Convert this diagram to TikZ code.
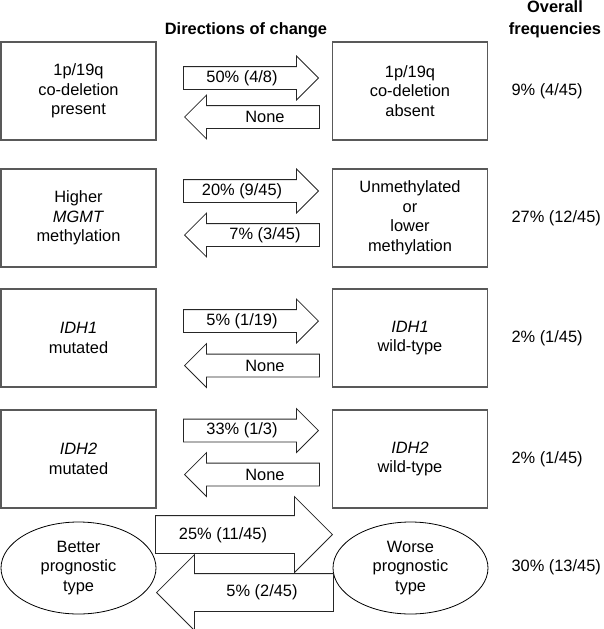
\documentclass[tikz,border=0pt]{standalone}
\usepackage{fontspec}
\setmainfont{Liberation Sans}
\usetikzlibrary{shapes.geometric,shapes.arrows}
\begin{document}
\begin{tikzpicture}[x=1pt,y=-1pt,
    font=\fontsize{16.4}{19.5}\selectfont,
    box/.style={draw=black!65,line width=1.5pt,minimum width=155pt,minimum height=98pt,inner sep=0pt,align=center},
    oval/.style={ellipse,draw,line width=0.8pt,minimum width=155pt,minimum height=92pt,inner sep=0pt,align=center},
    fwd/.style={single arrow,draw=black!85,line width=0.8pt,single arrow tip angle=90,
        single arrow head extend=10.5pt,single arrow head indent=0pt,minimum width=0pt,
        minimum height=135pt,inner sep=0pt,text height=11pt,text depth=11pt,anchor=tip},
    back/.style={fwd,shape border rotate=180},
    wide/.style={single arrow head extend=19pt,text height=18.5pt,text depth=18.5pt,minimum height=177pt}]
    \useasboundingbox (0,0) rectangle (603,629);
    % headings
    \node[font=\fontsize{16.4}{22}\selectfont\bfseries] (dirs) at (246,30) {Directions of change};
    \node[font=\fontsize{16.4}{22}\selectfont\bfseries,align=center] (freq) at (555,19) {Overall\\frequencies};
    % states
    \node[box] (A) at (78.5,91) {1p/19q\\co-deletion\\present};
    \node[box] (B) at (410,91) {1p/19q\\co-deletion\\absent};
    \node[box] (C) at (78.5,218) {Higher\\\textit{MGMT}\\methylation};
    \node[box] (D) at (410,218) {Unmethylated\\or\\lower\\methylation};
    \node[box] (E) at (78.5,338) {\textit{IDH1}\\mutated};
    \node[box] (F) at (410,338) {\textit{IDH1}\\wild-type};
    \node[box] (G) at (78.5,459) {\textit{IDH2}\\mutated};
    \node[box] (H) at (410,459) {\textit{IDH2}\\wild-type};
    \node[oval] (I) at (78.5,568) {Better\\prognostic\\type};
    \node[oval] (J) at (410.5,568) {Worse\\prognostic\\type};
    % directions of change
    \node[fwd] (AB) at (319,78) {};
    \node[back] (BA) at (184,117) {};
    \node[fwd] (CD) at (319,191) {};
    \node[back] (DC) at (184,235) {};
    \node[fwd] (EF) at (319,321) {};
    \node[back] (FE) at (184,365.5) {};
    \node[fwd] (GH) at (319,430.5) {};
    \node[back] (HG) at (184,474.5) {};
    \node[fwd,wide] (IJ) at (333,534.5) {};
    \node[back,wide] (JI) at (156,592.5) {};
    \node (tAB) at (242,78) {50\% (4/8)};
    \node (tBA) at (265,117) {None};
    \node (tCD) at (242,191) {20\% (9/45)};
    \node (tDC) at (265,235) {7\% (3/45)};
    \node (tEF) at (242,321) {5\% (1/19)};
    \node (tFE) at (265,365.5) {None};
    \node (tGH) at (242,430.5) {33\% (1/3)};
    \node (tHG) at (265,474.5) {None};
    \node (tIJ) at (223,535) {25\% (11/45)};
    \node (tJI) at (262,592) {5\% (2/45)};
    % overall frequencies
    \node[anchor=west] (fB) at (508,91) {9\% (4/45)};
    \node[anchor=west] (fD) at (508,218) {27\% (12/45)};
    \node[anchor=west] (fF) at (508,338) {2\% (1/45)};
    \node[anchor=west] (fH) at (508,459) {2\% (1/45)};
    \node[anchor=west] (fJ) at (508,567) {30\% (13/45)};
\end{tikzpicture}
\end{document}
